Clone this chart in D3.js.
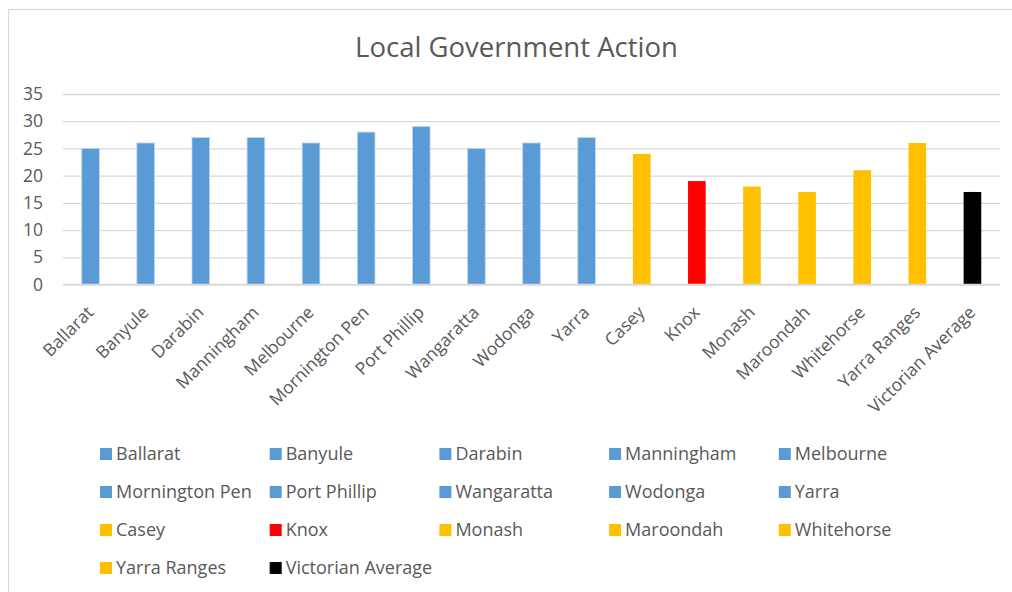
<!DOCTYPE html>
<html>
<head>
<meta charset="utf-8">
<script src="https://cdn.jsdelivr.net/npm/d3@7"></script>
<style>
  html, body { margin: 0; padding: 0; background: #fff; }
  svg { display: block; font-family: "Open Sans", "Noto Sans", sans-serif; }
</style>
</head>
<body>
<svg id="chart" width="1012" height="592"></svg>
<script>
// Councils and their scores
const councils = ["Ballarat", "Banyule", "Darabin", "Manningham", "Melbourne",
  "Mornington Pen", "Port Phillip", "Wangaratta", "Wodonga", "Yarra",
  "Casey", "Knox", "Monash", "Maroondah", "Whitehorse", "Yarra Ranges",
  "Victorian Average"];
const scores = [25, 26, 27, 27, 26, 28, 29, 25, 26, 27, 24, 19, 18, 17, 21, 26, 17];
// Colour group for each council
const groups = ["regional", "regional", "regional", "regional", "regional",
  "regional", "regional", "regional", "regional", "regional",
  "east", "knox", "east", "east", "east", "east", "average"];
const groupColors = { regional: "#5B9BD5", east: "#FFC000", knox: "#FF0000", average: "#000000" };
const yTicks = [0, 5, 10, 15, 20, 25, 30, 35];
const title = "Local Government Action";

const svg = d3.select("#chart");
const textColor = "#595959";

// Chart frame
svg.append("rect")
  .attr("x", 8.5).attr("y", 9.5)
  .attr("width", 1010).attr("height", 600)
  .attr("fill", "#fff").attr("stroke", "#D9D9D9").attr("stroke-width", 1.2);

// Title, sized to its box width
const titleText = svg.append("text")
  .attr("x", 516.5).attr("y", 56.5)
  .attr("text-anchor", "middle")
  .attr("fill", textColor)
  .attr("font-size", 26)
  .text(title);
const tw = titleText.node().getComputedTextLength();
titleText.attr("font-size", 26 * 323 / tw);

const plot = { left: 63, right: 1000, top: 94, bottom: 284.5 };

const x = d3.scaleBand()
  .domain(councils)
  .range([plot.left, plot.right])
  .paddingInner(0.68)
  .paddingOuter(0.34);

const y = d3.scaleLinear()
  .domain([0, 35])
  .range([plot.bottom, plot.top]);

// Gridlines and value axis labels
const yAxis = d3.axisLeft(y)
  .tickValues(yTicks)
  .tickSize(-(plot.right - plot.left))
  .tickPadding(20);

const gy = svg.append("g")
  .attr("transform", `translate(${plot.left},0)`)
  .call(yAxis);
gy.select(".domain").remove();
gy.selectAll(".tick line").attr("stroke", "#D9D9D9").attr("stroke-width", 1.3);
gy.selectAll(".tick text")
  .attr("fill", textColor)
  .attr("font-size", 17.5)
  .attr("font-family", "\"Open Sans\", sans-serif");

// Bars
svg.append("g")
  .selectAll("rect")
  .data(councils)
  .join("rect")
  .attr("x", d => x(d))
  .attr("y", (d, i) => y(scores[i]))
  .attr("width", x.bandwidth())
  .attr("height", (d, i) => y(0) - y(scores[i]))
  .attr("fill", (d, i) => groupColors[groups[i]])
  .attr("stroke", (d, i) => groups[i] === "regional" ? "#BDD7EE" : "none")
  .attr("stroke-width", 0.8);

// Category axis baseline
svg.append("line")
  .attr("x1", plot.left).attr("x2", plot.right)
  .attr("y1", y(0)).attr("y2", y(0))
  .attr("stroke", "#D9D9D9").attr("stroke-width", 1.5);

// Category labels, rotated
const xAxis = d3.axisBottom(x).tickSize(0).tickPadding(0);
const gx = svg.append("g")
  .attr("transform", `translate(0,${plot.bottom})`)
  .call(xAxis);
gx.select(".domain").remove();
gx.selectAll(".tick text")
  .attr("fill", textColor)
  .attr("font-size", 17.5)
  .attr("font-family", "\"Open Sans\", sans-serif")
  .attr("text-anchor", "end")
  .attr("dy", 0)
  .attr("transform", "translate(4,29) rotate(-45)");

// Legend: five columns
const legend = svg.append("g");
const colW = 169.7, rowH = 38, lx0 = 100, ly0 = 454;
const items = legend.selectAll("g")
  .data(councils)
  .join("g")
  .attr("transform", (d, i) => `translate(${lx0 + (i % 5) * colW},${ly0 + Math.floor(i / 5) * rowH})`);
items.append("rect")
  .attr("x", 0).attr("y", -6)
  .attr("width", 12).attr("height", 12)
  .attr("fill", (d, i) => groupColors[groups[i]]);
items.append("text")
  .attr("x", 16).attr("y", 0)
  .attr("dy", "0.35em")
  .attr("fill", textColor)
  .attr("font-size", 18)
  .text(d => d);
</script>
</body>
</html>
